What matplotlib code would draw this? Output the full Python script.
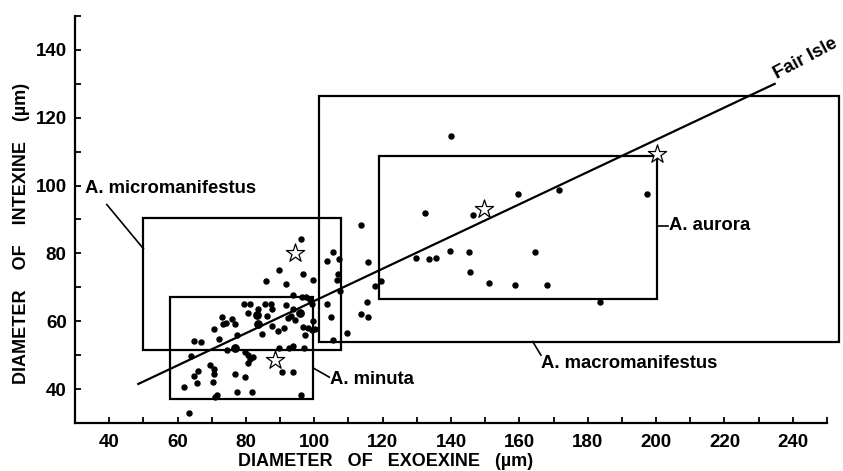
import matplotlib.pyplot as plt
from matplotlib.patches import Rectangle

plt.rcParams['font.family'] = ['Liberation Sans', 'DejaVu Sans']
plt.rcParams['font.weight'] = 'bold'

# Step 1: values (diameters in um)
dots_x = [63.4, 62.0, 63.8, 64.9, 66.1, 65.8, 64.9, 66.8, 69.4, 70.8,
          70.7, 70.5, 70.9, 71.5, 70.7, 72.2, 73.3, 74.3, 72.9, 74.6,
          75.8, 76.8, 77.5, 76.8, 77.5, 79.7, 81.8, 79.7, 80.7, 81.2,
          82.1, 80.7, 79.5, 81.1, 80.7, 83.4, 85.7, 87.2, 87.5, 86.3,
          84.8, 87.5, 89.4, 91.0, 89.7, 92.7, 93.9, 97.0, 90.6, 93.8,
          96.1, 91.7, 93.8, 92.2, 93.3, 94.5, 93.8, 96.3, 97.7, 98.7,
          99.2, 96.6, 98.2, 99.2, 97.3, 99.7, 100.2, 85.9, 89.6, 91.8,
          96.6, 99.6, 96.2,
          103.8, 105.5, 107.3, 107.0, 106.5, 113.6, 115.7, 103.8, 104.9, 105.5,
          109.7, 107.6, 113.8, 115.6, 115.5, 117.8, 119.6, 129.7, 133.7, 135.5,
          139.6, 145.3, 145.5, 151.1, 158.8, 168.0, 183.5, 164.7, 159.7, 171.6,
          197.4, 132.5, 146.3, 140.0]
dots_y = [32.8, 40.7, 49.8, 43.8, 45.4, 41.9, 54.1, 54.0, 47.1, 46.0,
          44.4, 42.1, 37.7, 38.3, 57.6, 54.9, 59.3, 59.4, 61.1, 51.5,
          60.8, 59.3, 55.9, 44.3, 39.1, 43.6, 39.0, 51.0, 50.0, 49.0,
          49.4, 47.6, 65.0, 65.0, 62.3, 63.7, 65.0, 65.0, 63.7, 61.6,
          56.2, 58.5, 57.2, 58.1, 52.0, 52.2, 52.7, 52.0, 44.9, 44.9,
          38.2, 64.9, 63.7, 61.0, 61.5, 60.3, 67.6, 67.1, 67.0, 66.2,
          65.2, 58.3, 58.1, 57.4, 55.9, 60.0, 57.8, 71.9, 75.1, 71.1,
          73.9, 72.3, 84.3,
          77.8, 80.5, 78.3, 73.8, 72.3, 88.3, 77.6, 65.2, 61.1, 54.6,
          56.4, 68.8, 62.2, 61.2, 65.8, 70.4, 71.9, 78.5, 78.4, 78.7,
          80.7, 80.5, 74.5, 71.4, 70.8, 70.6, 65.7, 80.5, 97.6, 98.8,
          97.4, 92.0, 91.2, 114.7]

big_x = [76.8, 83.2, 83.4, 95.8]
big_y = [52.1, 61.9, 59.2, 62.3]

star_x = [94.4, 88.6, 149.7, 200.3]
star_y = [80.0, 48.6, 93.1, 109.4]

# Fair Isle regression line end points
fit_x = [48.5, 234.7]
fit_y = [41.5, 130.0]

# Ranges of the taxa: x0, x1, y0, y1
taxa = ['A. micromanifestus', 'A. minuta', 'A. macromanifestus', 'A. aurora']
box_x0 = [50.0, 57.8, 101.5, 119.0]
box_x1 = [107.8, 99.7, 253.4, 200.4]
box_y0 = [51.4, 37.0, 54.0, 66.7]
box_y1 = [90.3, 67.0, 126.5, 108.6]

# Step 2: draw
fig = plt.figure(figsize=(8.43, 4.71), dpi=100)
ax = fig.add_axes([0.089, 0.102, 0.892, 0.864])

for x0, x1, y0, y1 in zip(box_x0, box_x1, box_y0, box_y1):
    ax.add_patch(Rectangle((x0, y0), x1 - x0, y1 - y0, fill=False,
                           edgecolor='black', linewidth=1.6, clip_on=False))

ax.plot(fit_x, fit_y, color='black', linewidth=1.6)
ax.scatter(dots_x, dots_y, s=13, color='black', zorder=3)
ax.scatter(big_x, big_y, s=28, color='black', zorder=3)
ax.scatter(star_x, star_y, marker='*', s=190, facecolors='white',
           edgecolors='black', linewidths=0.9, zorder=4)

# labels with leader lines
fs = 13.3
ax.plot([39.3, 50.0], [94.4, 81.4], color='black', linewidth=1.2)
ax.text(32.9, 99.1, taxa[0], fontsize=fs, ha='left', va='center')
ax.plot([99.7, 104.4], [46.2, 43.5], color='black', linewidth=1.2)
ax.text(104.6, 42.9, taxa[1], fontsize=fs, ha='left', va='center')
ax.plot([163.9, 166.3], [54.0, 50.0], color='black', linewidth=1.2)
ax.text(166.3, 47.4, taxa[2], fontsize=fs, ha='left', va='center')
ax.plot([200.4, 203.6], [88.2, 88.2], color='black', linewidth=1.2)
ax.text(203.8, 88.2, taxa[3], fontsize=fs, ha='left', va='center')
ax.text(236.0, 130.4, 'Fair Isle', fontsize=fs, ha='left', va='bottom',
        rotation=28, rotation_mode='anchor')

# Step 3: axes
ax.set_xlim(30, 250)
ax.set_ylim(30, 150)
ax.set_xticks(range(40, 241, 20))
ax.set_xticks(range(30, 251, 10), minor=True)
ax.set_yticks(range(40, 141, 20))
ax.set_yticks(range(30, 151, 10), minor=True)
ax.tick_params(which='both', direction='in', length=4, width=1.3)
ax.tick_params(axis='x', which='major', labelsize=13.5, pad=8)
ax.tick_params(axis='y', which='major', labelsize=13.5, pad=6)
for side in ['top', 'right']:
    ax.spines[side].set_visible(False)
for side in ['left', 'bottom']:
    ax.spines[side].set_linewidth(1.6)

fig.text(0.457, 0.02, 'DIAMETER   OF   EXOEXINE   (µm)', fontsize=13,
         ha='center', va='center')
fig.text(0.026, 0.504, 'DIAMETER    OF    INTEXINE    (µm)', fontsize=13,
         ha='center', va='center', rotation=90)

plt.savefig('out.png', dpi=100)
plt.close()
